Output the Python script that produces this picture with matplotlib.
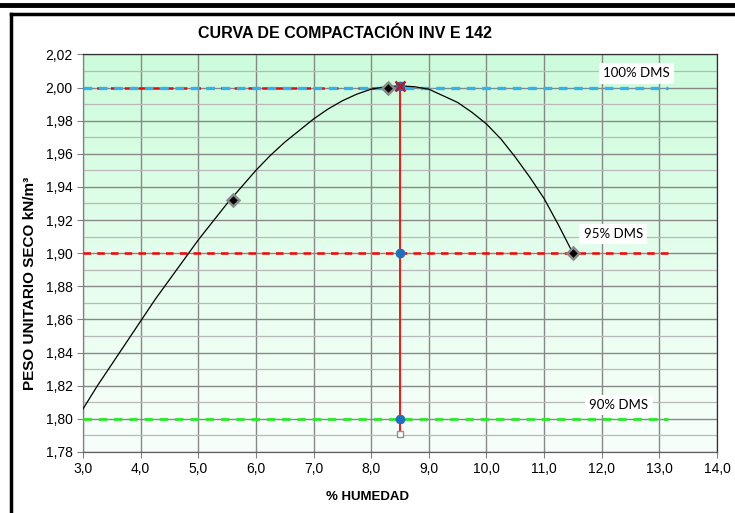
import numpy as np
import matplotlib.pyplot as plt
from matplotlib.ticker import MultipleLocator, FuncFormatter
from matplotlib.lines import Line2D

# ensayo (puntos medidos)
hum_pts = [5.6, 8.3, 11.5]
dens_pts = [1.932, 2.000, 1.900]

# curva de ajuste
curva_x = [3.0, 3.25, 3.5, 3.75, 4.0, 4.25, 4.5, 4.75, 5.0, 5.25, 5.5, 5.75,
           6.0, 6.25, 6.5, 6.75, 7.0, 7.25, 7.5, 7.75, 8.0, 8.25, 8.5, 8.75,
           9.0, 9.25, 9.5, 9.75, 10.0, 10.25, 10.5, 10.75, 11.0, 11.25, 11.5]
curva_y = [1.806, 1.820, 1.833, 1.846, 1.859, 1.872, 1.884, 1.896, 1.908,
           1.919, 1.930, 1.940, 1.950, 1.959, 1.967, 1.974, 1.981, 1.987,
           1.992, 1.996, 1.999, 2.0005, 2.001, 2.0005, 1.999, 1.995, 1.991,
           1.985, 1.978, 1.969, 1.958, 1.946, 1.933, 1.917, 1.900]

# optimos
hum_opt = 8.5
dens_max = 2.001
niveles = [2.00, 1.90, 1.80]
etiquetas = ["100% DMS", "95% DMS", "90% DMS"]
x_fin = 13.15

fig = plt.figure(figsize=(7.35, 5.13), dpi=100)
ax = fig.add_axes([83/735, 1-452/513, 634/735, 397.6/513])

# fondo degradado
grad = np.linspace(0, 1, 256).reshape(-1, 1)
top = np.array([0.80, 0.99, 0.86])
bot = np.array([0.97, 1.0, 0.98])
w = grad ** 1.1
img = bot + (top - bot) * w
ax.imshow(img.reshape(256, 1, 3), extent=[3, 14, 1.78, 2.02], aspect='auto',
          origin='lower', zorder=0)

ax.set_xlim(3, 14)
ax.set_ylim(1.78, 2.02)
ax.xaxis.set_major_locator(MultipleLocator(1.0))
ax.yaxis.set_major_locator(MultipleLocator(0.02))
ax.yaxis.set_minor_locator(MultipleLocator(0.01))
ax.grid(which='major', color='#888888', lw=1.0, zorder=1)
ax.grid(which='minor', axis='y', color='#b8b8b8', lw=0.9, zorder=1)
ax.xaxis.set_major_formatter(FuncFormatter(lambda v, p: f"{v:.1f}".replace('.', ',')))
ax.yaxis.set_major_formatter(FuncFormatter(lambda v, p: f"{v:.2f}".replace('.', ',')))
ax.tick_params(which='minor', length=0)
ax.tick_params(which='major', length=4, color='#808080', labelsize=10)
for lab in ax.get_xticklabels() + ax.get_yticklabels():
    lab.set_fontfamily('Liberation Sans')
for s in ['top', 'right']:
    ax.spines[s].set_color('#303030')
ax.spines['left'].set_color('#808080')
ax.spines['bottom'].set_color('#606060')
for s in ax.spines.values():
    s.set_linewidth(0.9)

# lineas de referencia
ax.plot([3, hum_opt], [niveles[0], niveles[0]], color='red', ls=(0, (3, 2.5)), lw=1.8, zorder=3)
ax.plot([3, x_fin], [niveles[0], niveles[0]], color='#2fb4f0', ls=(0, (2.6, 2)), lw=2.4, zorder=3)
ax.plot([3, x_fin], [niveles[1], niveles[1]], color='red', ls=(0, (3, 2.5)), lw=1.8, zorder=3)
ax.plot([3, x_fin], [niveles[2], niveles[2]], color='#22ee22', ls=(0, (3, 2.5)), lw=2.0, zorder=3)

# vertical de humedad optima
ax.plot([hum_opt, hum_opt], [dens_max, 1.791], color='red', lw=1.3, zorder=4)

# curva
ax.plot(curva_x, curva_y, color='black', lw=0.9, zorder=5)
ax.plot(hum_pts, dens_pts, ls='none', marker='D', ms=6, mfc='black', mec='#8a8a8a',
        mew=1.8, zorder=6)
ax.plot([hum_opt] * 3, [dens_max, niveles[1], niveles[2]], ls='none', marker='o', ms=6,
        color='#1f6fc0', zorder=7)
ax.plot([hum_opt], [dens_max], ls='none', marker='x', ms=7, mew=1.8, color='#d01010', zorder=8)
ax.plot([hum_opt], [1.791], ls='none', marker='s', ms=5, mfc='white', mec='#909090',
        mew=1, zorder=6)

# etiquetas DMS
pos_lab = [(12.6, 2.0085), (12.2, 1.9115), (12.3, 1.8085)]
for (xx, yy), t in zip(pos_lab, etiquetas):
    ax.text(xx, yy, t, fontsize=9.5, family='Lato', ha='center', va='center',
            bbox=dict(facecolor='white', edgecolor='none', pad=3), zorder=9)

fig.text(0.469, 1-33/513, "CURVA DE COMPACTACIÓN INV E 142", ha='center', va='center',
         fontsize=11.5, fontweight='bold', family='Liberation Sans')
fig.text(0.50, 1-497/513, "% HUMEDAD", ha='center', va='center',
         fontsize=9.5, fontweight='bold', family='Liberation Sans')
fig.text(30/735, 1-283/513, "PESO UNITARIO SECO kN/m³", ha='center', va='center',
         rotation=90, fontsize=11, fontweight='bold', family='Liberation Sans')

# marco exterior
fig.add_artist(Line2D([0, 1], [1-5/513, 1-5/513], color='black', lw=3.5))
fig.add_artist(Line2D([11/735, 1], [1-14/513, 1-14/513], color='black', lw=2.5))
fig.add_artist(Line2D([11/735, 11/735], [0, 1-14/513], color='black', lw=2.5))

fig.savefig('out.png', dpi=100)
